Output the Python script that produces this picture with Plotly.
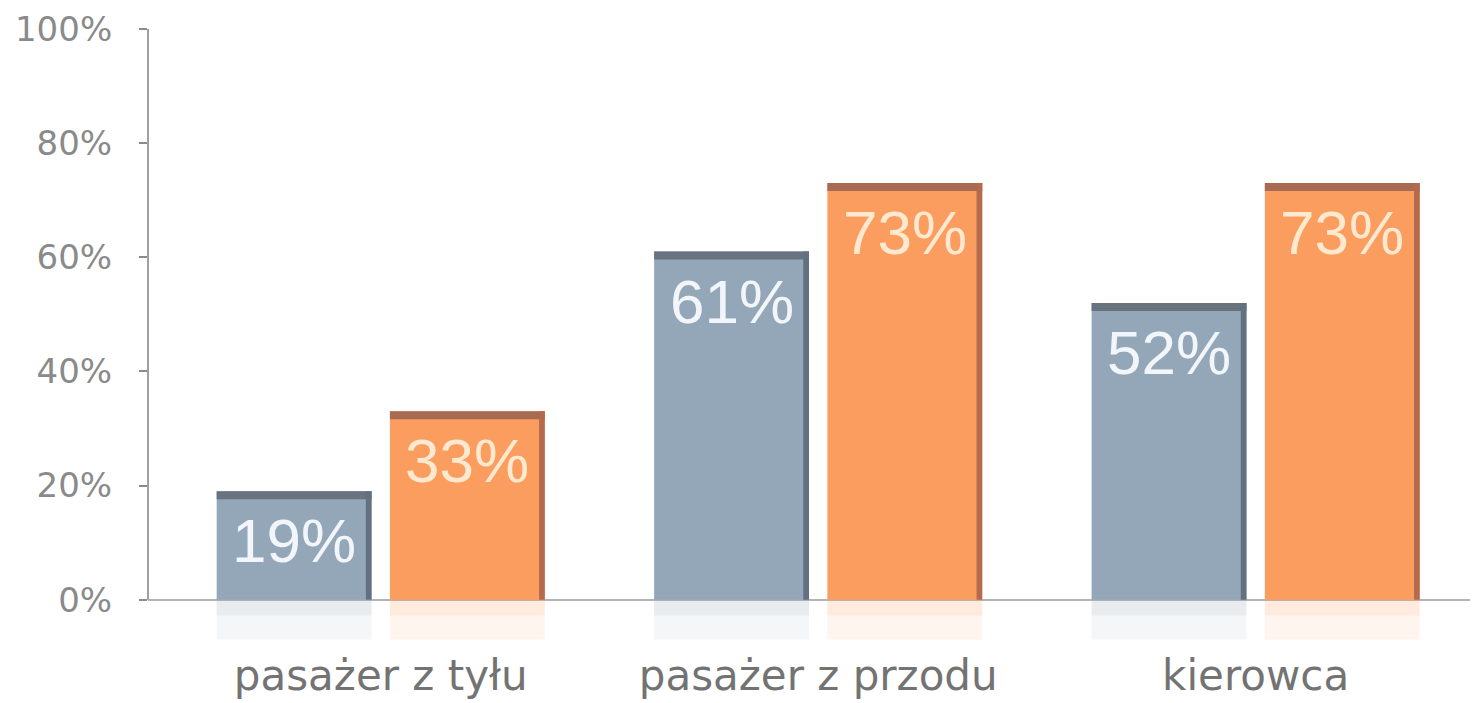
import plotly.graph_objects as go

categories = ["pasażer z tyłu", "pasażer z przodu", "kierowca"]
series_a = [19, 61, 52]
series_b = [33, 73, 73]
y_ticks = [0, 20, 40, 60, 80, 100]
y_tick_labels = ["0%", "20%", "40%", "60%", "80%", "100%"]

x = list(range(len(categories)))
W = 0.354
OFF_A = -0.375
OFF_B = 0.021
EDGE = 1.4
SIDE = 0.013
REFL = 7.0
Y_MIN = -9

fig = go.Figure()

def add_series(vals, off, color, edge_col, side_col, text_col):
    # reflection
    fig.add_trace(go.Bar(
        x=x, y=[-REFL] * len(vals), width=W, offset=off,
        marker=dict(color=color, opacity=0.10, line=dict(width=0)), hoverinfo="skip",
    ))
    fig.add_trace(go.Bar(
        x=x, y=[-REFL / 2.5] * len(vals), width=W, offset=off,
        marker=dict(color=color, opacity=0.12, line=dict(width=0)), hoverinfo="skip",
    ))
    fig.add_trace(go.Bar(
        x=x, y=vals, width=W, offset=off,
        marker=dict(color=color, line=dict(width=0)), hoverinfo="skip",
    ))
    fig.add_trace(go.Bar(
        x=x, y=[EDGE] * len(vals), base=[v - EDGE for v in vals], width=W, offset=off,
        marker=dict(color=edge_col, line=dict(width=0)), hoverinfo="skip",
    ))
    fig.add_trace(go.Bar(
        x=x, y=vals, width=SIDE, offset=off + W - SIDE,
        marker=dict(color=side_col, line=dict(width=0)), hoverinfo="skip",
    ))
    for xi, v in zip(x, vals):
        fig.add_annotation(
            x=xi + off + W / 2, y=v, xref="x", yref="y",
            text=f"{v}%", showarrow=False, yanchor="top", yshift=-13,
            font=dict(family="Liberation Sans, Arial", size=62, color=text_col),
        )

add_series(series_a, OFF_A, "#93a7b9", "#68737f", "#627080", "#f2f6fa")
add_series(series_b, OFF_B, "#fc9d60", "#a86a52", "#b46a4c", "#fde9cf")

fig.update_layout(
    barmode="overlay",
    showlegend=False,
    width=1473, height=703,
    margin=dict(l=148, r=3, t=29, b=52),
    plot_bgcolor="white", paper_bgcolor="white",
    font=dict(family="Liberation Sans, Arial", color="#7a7a7a"),
    shapes=[dict(type="line", xref="paper", yref="y", x0=0, x1=0, y0=0, y1=100,
                 line=dict(color="#a0a0a0", width=2), layer="above")],
)
fig.update_xaxes(
    range=[-0.532, 2.49],
    tickvals=x, ticktext=categories,
    tickfont=dict(family="DejaVu Sans", size=42, color="#737373"),
    showline=False, ticks="", ticklabelstandoff=-4, automargin=False,
    showgrid=False, zeroline=False,
)
fig.update_yaxes(
    range=[Y_MIN, 100],
    tickvals=y_ticks, ticktext=y_tick_labels,
    tickfont=dict(family="DejaVu Sans", size=34, color="#8a8a8a"),
    showline=False,
    ticks="outside", ticklen=8, tickcolor="#8a8a8a", tickwidth=2,
    ticklabelstandoff=20, automargin=False,
    showgrid=False, zeroline=True, zerolinecolor="#b4b4b4", zerolinewidth=2,
)

fig.write_html("out.html")
